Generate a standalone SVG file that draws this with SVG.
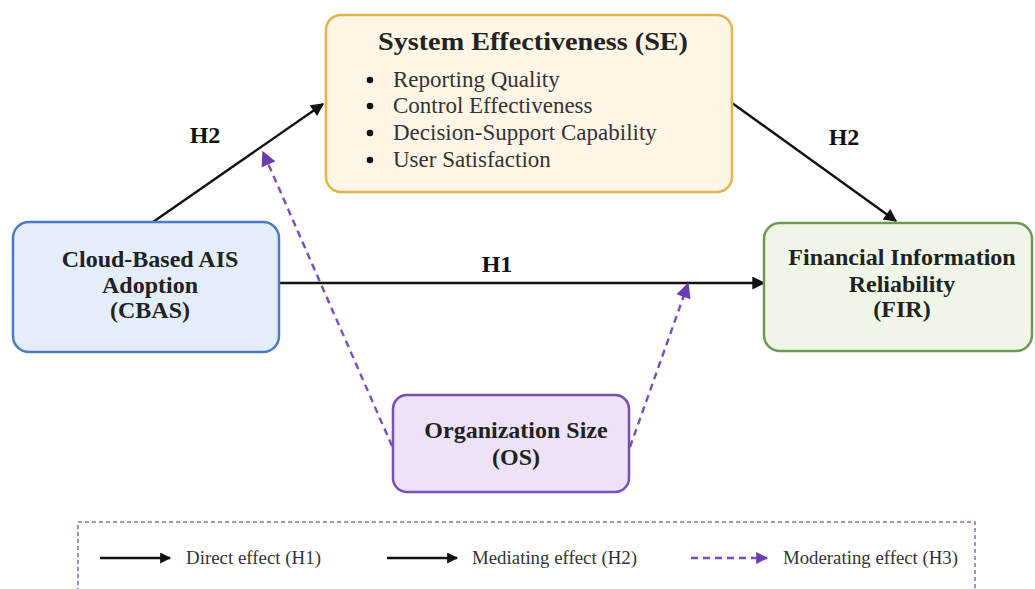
<svg xmlns="http://www.w3.org/2000/svg" width="1035" height="589" viewBox="0 0 1035 589">
  <defs>
    <marker id="arrowBlack" viewBox="0 0 10 10" refX="9" refY="5" markerWidth="13" markerHeight="11" markerUnits="userSpaceOnUse" orient="auto">
      <path d="M0,0 L10,5 L0,10 z" fill="#111"/>
    </marker>
    <marker id="arrowBlackL" viewBox="0 0 10 10" refX="9" refY="5" markerWidth="16" markerHeight="13" markerUnits="userSpaceOnUse" orient="auto">
      <path d="M0,0 L10,5 L0,10 z" fill="#111"/>
    </marker>
    <marker id="arrowPurple" viewBox="0 0 10 10" refX="9" refY="5" markerWidth="16" markerHeight="15" markerUnits="userSpaceOnUse" orient="auto">
      <path d="M0,0 L10,5 L0,10 z" fill="#6a3cb0"/>
    </marker>
    <marker id="arrowPurpleS" viewBox="0 0 10 10" refX="9" refY="5" markerWidth="13" markerHeight="12" markerUnits="userSpaceOnUse" orient="auto">
      <path d="M0,0 L10,5 L0,10 z" fill="#6a3cb0"/>
    </marker>
  </defs>
  <style>
    .title { font-family: "Liberation Serif", "Times New Roman", serif; font-weight: bold; fill: #222; }
    .item { font-family: "Liberation Serif", "Times New Roman", serif; fill: #333; font-size: 23px; }
    .lbl { font-family: "Liberation Serif", "Times New Roman", serif; font-weight: bold; fill: #111; font-size: 24px; }
    .legend { font-family: "Liberation Serif", "Times New Roman", serif; fill: #333; font-size: 18.5px; }
    .direct { stroke: #111; stroke-width: 2.4; fill: none; }
    .moder { stroke: #7a4cc0; stroke-width: 2.4; fill: none; stroke-dasharray: 7 5; }
  </style>
  <rect width="1035" height="589" fill="#ffffff"/>

  <!-- connectors -->
  <g id="connectors">
    <line class="direct" x1="153" y1="222" x2="323" y2="104" marker-end="url(#arrowBlackL)"/>
    <line class="direct" x1="732" y1="103" x2="896" y2="221" marker-end="url(#arrowBlackL)"/>
    <line class="direct" x1="279" y1="283" x2="764" y2="283" marker-end="url(#arrowBlackL)"/>
    <line class="moder" x1="392" y1="446" x2="263" y2="152" marker-end="url(#arrowPurple)"/>
    <line class="moder" x1="630" y1="447" x2="688" y2="284" marker-end="url(#arrowPurple)"/>
    <text class="lbl" x="205" y="143" text-anchor="middle">H2</text>
    <text class="lbl" x="844" y="145" text-anchor="middle">H2</text>
    <text class="lbl" x="497" y="272" text-anchor="middle">H1</text>
  </g>

  <!-- System Effectiveness -->
  <g id="node-se">
    <rect x="326" y="15" width="406" height="177" rx="15" fill="#fdf6e6" stroke="#e2b24c" stroke-width="2.5"/>
    <text class="title" x="533" y="50" text-anchor="middle" font-size="26" textLength="310" lengthAdjust="spacingAndGlyphs">System Effectiveness (SE)</text>
    <g fill="#111">
      <circle cx="370" cy="80" r="3.3"/>
      <circle cx="370" cy="106" r="3.3"/>
      <circle cx="370" cy="133" r="3.3"/>
      <circle cx="370" cy="160" r="3.3"/>
    </g>
    <text class="item" x="393" y="87">Reporting Quality</text>
    <text class="item" x="393" y="113">Control Effectiveness</text>
    <text class="item" x="393" y="140">Decision-Support Capability</text>
    <text class="item" x="393" y="167">User Satisfaction</text>
  </g>

  <!-- Cloud-Based AIS Adoption -->
  <g id="node-cbas">
    <rect x="13" y="222" width="266" height="130" rx="16" fill="#e4eefa" stroke="#4c7ac2" stroke-width="2.5"/>
    <text class="title" x="150" y="267" text-anchor="middle" font-size="24">Cloud-Based AIS</text>
    <text class="title" x="150" y="293" text-anchor="middle" font-size="24">Adoption</text>
    <text class="title" x="150" y="318" text-anchor="middle" font-size="24">(CBAS)</text>
  </g>

  <!-- Financial Information Reliability -->
  <g id="node-fir">
    <rect x="764" y="223" width="268" height="128" rx="16" fill="#eff6e8" stroke="#6c9a52" stroke-width="2.5"/>
    <text class="title" x="902" y="265" text-anchor="middle" font-size="24">Financial Information</text>
    <text class="title" x="902" y="292" text-anchor="middle" font-size="24">Reliability</text>
    <text class="title" x="902" y="317" text-anchor="middle" font-size="24">(FIR)</text>
  </g>

  <!-- Organization Size -->
  <g id="node-os">
    <rect x="393" y="395" width="236" height="97" rx="14" fill="#ede2f6" stroke="#7a4cb4" stroke-width="2.5"/>
    <text class="title" x="516" y="438" text-anchor="middle" font-size="24">Organization Size</text>
    <text class="title" x="516" y="465" text-anchor="middle" font-size="24">(OS)</text>
  </g>

  <!-- legend -->
  <g id="legend">
    <rect x="78" y="522" width="897" height="90" fill="none" stroke="#8a72b8" stroke-width="1.6" stroke-dasharray="4 3"/>
    <line class="direct" x1="100" y1="558" x2="170" y2="558" stroke-width="3" marker-end="url(#arrowBlack)"/>
    <text class="legend" x="186" y="564" textLength="135" lengthAdjust="spacingAndGlyphs">Direct effect (H1)</text>
    <line class="direct" x1="387" y1="558" x2="457" y2="558" stroke-width="3" marker-end="url(#arrowBlack)"/>
    <text class="legend" x="472" y="564" textLength="165" lengthAdjust="spacingAndGlyphs">Mediating effect (H2)</text>
    <line class="moder" x1="691" y1="558" x2="767" y2="558" stroke-dasharray="5 4" marker-end="url(#arrowPurpleS)"/>
    <text class="legend" x="783" y="564" textLength="175" lengthAdjust="spacingAndGlyphs">Moderating effect (H3)</text>
  </g>
</svg>
